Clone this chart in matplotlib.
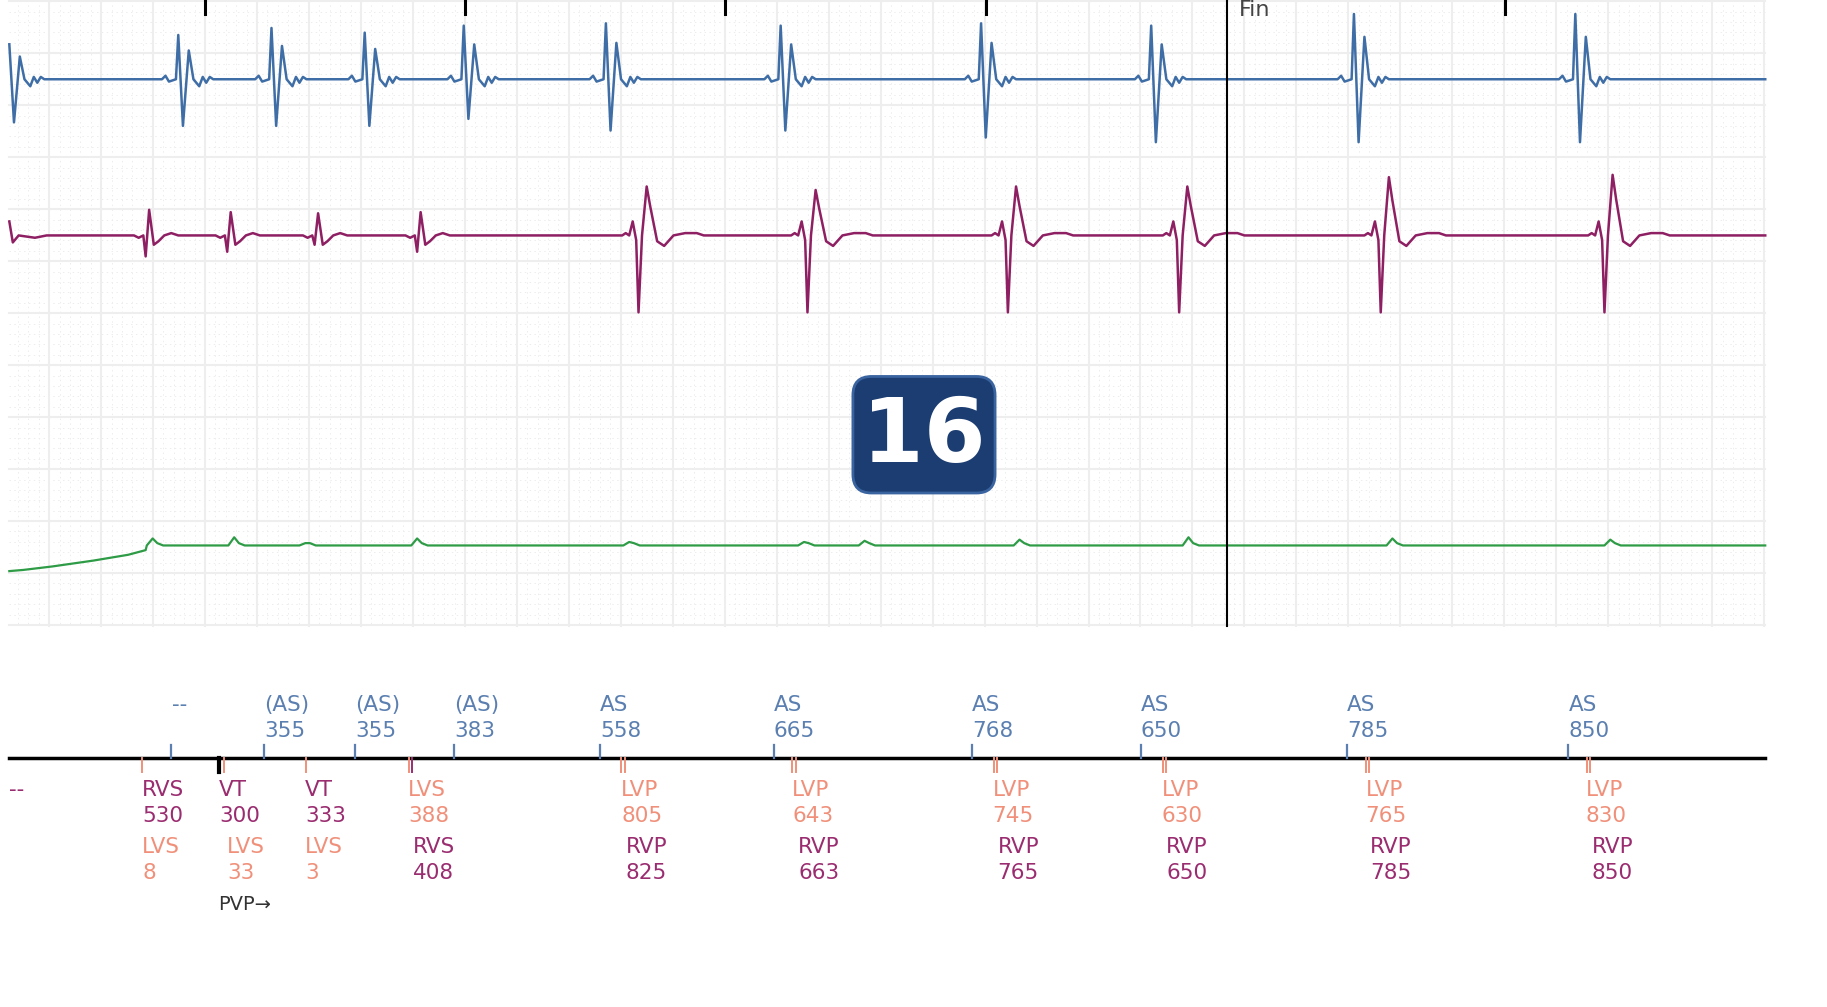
import numpy as np
import matplotlib
matplotlib.use("Agg")
import matplotlib.pyplot as plt
from matplotlib.patches import FancyBboxPatch

# ---- canvas in reference-view units ----
W, H = 1568, 864
X0, X1 = 8, 1515          # trace area
Y_GRID_BOTTOM = 537

# ---- channel baselines ----
blue_base, red_base, green_base = 68, 202, 468

# ---- blue channel (atrial) beats ----
blue_x    = [8, 153, 233, 313, 398, 520, 670, 842, 988, 1162, 1352]
blue_top  = [38, 30, 24, 28, 22, 20, 22, 20, 22, 12, 12]
blue_bot  = [105, 108, 108, 108, 102, 112, 112, 118, 122, 122, 122]

# ---- red channel (ventricular) beats ----
red_small_x   = [127, 197, 272, 360]
red_small_top = [180, 182, 183, 182]
red_small_bot = [220, 216, 210, 216]
red_big_x     = [548, 693, 865, 1012, 1185, 1377]
red_big_top   = [160, 163, 160, 160, 152, 150]
red_big_bot   = [268, 268, 268, 268, 268, 268]

# ---- green channel ----
green_start_x = [8, 20, 45, 80, 110, 125]
green_start_y = [490, 489, 486, 481, 476, 472]
green_bump_x  = [131, 201, 262, 358, 540, 690, 742, 875, 1020, 1195, 1382]
green_bump_y  = [462, 461, 466, 462, 465, 465, 464, 463, 461, 462, 463]

# ---- marks ----
top_ticks = [176, 399, 622, 846, 1292]
fin_x = 1053

# ---- annotation channel ----
atrial_tick_x = [147, 227, 305, 390, 515, 664, 834, 979, 1156, 1346]
atrial_l1 = ["--", "(AS)", "(AS)", "(AS)", "AS", "AS", "AS", "AS", "AS", "AS"]
atrial_l2 = ["", "355", "355", "383", "558", "665", "768", "650", "785", "850"]

vent_tick_x = [122, 192, 263, 351, 354, 533, 536, 680, 683, 853, 856, 998, 1001, 1172, 1175, 1362, 1365]
vent_tick_c = ["s", "s", "s", "s", "p", "s", "s", "s", "s", "s", "s", "s", "s", "s", "s", "s", "s"]

# rows: (x, text, colorkey, row)
vent_labels = [
    (8, "--", "p", 0),
    (122, "RVS", "p", 0), (122, "530", "p", 1), (122, "LVS", "s", 2), (122, "8", "s", 3),
    (188, "VT", "p", 0), (188, "300", "p", 1), (195, "LVS", "s", 2), (195, "33", "s", 3),
    (262, "VT", "p", 0), (262, "333", "p", 1), (262, "LVS", "s", 2), (262, "3", "s", 3),
    (350, "LVS", "s", 0), (350, "388", "s", 1), (354, "RVS", "p", 2), (354, "408", "p", 3),
    (533, "LVP", "s", 0), (533, "805", "s", 1), (537, "RVP", "p", 2), (537, "825", "p", 3),
    (680, "LVP", "s", 0), (680, "643", "s", 1), (685, "RVP", "p", 2), (685, "663", "p", 3),
    (852, "LVP", "s", 0), (852, "745", "s", 1), (856, "RVP", "p", 2), (856, "765", "p", 3),
    (997, "LVP", "s", 0), (997, "630", "s", 1), (1001, "RVP", "p", 2), (1001, "650", "p", 3),
    (1172, "LVP", "s", 0), (1172, "765", "s", 1), (1176, "RVP", "p", 2), (1176, "785", "p", 3),
    (1361, "LVP", "s", 0), (1361, "830", "s", 1), (1366, "RVP", "p", 2), (1366, "850", "p", 3),
]
row_y = [678, 700, 727, 749]

BLUE = "#3f6ea6"
RED = "#8e1f63"
GREEN = "#2e9b46"
LBLUE = "#5a7fb0"
PURPLE = "#9a2c70"
SALMON = "#f0907a"

fig = plt.figure(figsize=(18.27, 10.07), dpi=100)
ax = fig.add_axes([0, 0, 1, 1])
ax.set_xlim(0, W)
ax.set_ylim(H, 0)
ax.axis("off")

# grid
step = 44.6
gx = np.arange(-2.4, X1 + 1, step)
gx = gx[gx >= X0]
gy = np.arange(1.1, Y_GRID_BOTTOM + 1, step)
mx = np.arange(-2.4, X1, step / 5)
mx = mx[mx >= X0]
my = np.arange(1.1, Y_GRID_BOTTOM, step / 5)
for x in mx:
    ax.plot([x, x], [0, Y_GRID_BOTTOM], color="#ededed", lw=0.7, ls=(0, (1.5, 3.5)), zorder=1)
for y in my:
    ax.plot([X0, X1], [y, y], color="#ededed", lw=0.7, ls=(0, (1.5, 3.5)), zorder=1)
for x in gx:
    ax.plot([x, x], [0, Y_GRID_BOTTOM], color="#eeeeee", lw=1.5, zorder=1)
for y in gy:
    ax.plot([X0, X1], [y, y], color="#eeeeee", lw=1.5, zorder=1)


def build(base, segments, start=True):
    pts = [(X1, base)]
    if start:
        pts.append((X0, base))
    for seg in segments:
        pts.extend(seg)
    pts.sort(key=lambda p: p[0])
    xs, ys = zip(*pts)
    return np.array(xs), np.array(ys)

# blue
segs = []
for x0, t, b in zip(blue_x, blue_top, blue_bot):
    U = blue_base - t
    D = b - blue_base
    dx = [-14, -11, -8, -2, 0, 4, 9, 13, 18, 21, 24, 27, 30]
    dy = [0, -3, 2, 0, -U, D, -0.65 * U, 0, 6, -2, 3, -2, 0]
    segs.append([(x0 + a, blue_base + c) for a, c in zip(dx, dy) if x0 + a >= X0])
bx, by = build(blue_base, segs, start=False)
ax.plot(bx, by, color=BLUE, lw=1.8, zorder=3)

# red
segs = [[(X0, red_base - 12), (11, red_base + 6), (16, red_base), (30, red_base + 2), (40, red_base)]]
for x0, t, b in zip(red_small_x, red_small_top, red_small_bot):
    U = red_base - t
    D = b - red_base
    dx = [-12, -8, -4, -2, 1, 5, 9, 14, 20, 26]
    dy = [0, 2, 0, D, -U, 8, 5, 0, -2, 0]
    segs.append([(x0 + a, red_base + c) for a, c in zip(dx, dy)])
for x0, t, b in zip(red_big_x, red_big_top, red_big_bot):
    U = red_base - t
    D = b - red_base
    dx = [-14, -11, -8, -5, -2, 0, 3, 7, 10, 16, 22, 30, 40, 50, 56]
    dy = [0, -2, 0, -12, 4, D, 0, -U, -0.6 * U, 5, 9, 0, -2, -2, 0]
    segs.append([(x0 + a, red_base + c) for a, c in zip(dx, dy)])
rx, ry = build(red_base, segs, start=False)
ax.plot(rx, ry, color=RED, lw=1.8, zorder=3)

# green
segs = [list(zip(green_start_x, green_start_y))]
for x0, y in zip(green_bump_x, green_bump_y):
    segs.append([(x0 - 5, green_base), (x0, y), (x0 + 4, green_base - 2), (x0 + 9, green_base)])
gxp, gyp = build(green_base, segs, start=False)
ax.plot(gxp, gyp, color=GREEN, lw=1.6, zorder=3)

# top ticks, Fin line
for x in top_ticks:
    ax.plot([x, x], [0, 12], color="black", lw=2.2, zorder=4)
ax.plot([fin_x, fin_x], [0, Y_GRID_BOTTOM], color="black", lw=1.5, zorder=4)
ax.text(fin_x + 10, 9, "Fin", color="#444444", fontsize=16, ha="left", va="center", zorder=5)

# badge
badge = FancyBboxPatch((732, 323), 122, 100, boxstyle="round,pad=0,rounding_size=16",
                       facecolor="#1b3d72", edgecolor="#3a64a0", lw=2, zorder=6)
ax.add_patch(badge)
ax.text(793, 375, "16", color="white", fontsize=64, fontweight="bold",
        ha="center", va="center", zorder=7)

# annotation channel
ax.plot([X0, X1], [650, 650], color="black", lw=2.5, zorder=4)
for x, l1, l2 in zip(atrial_tick_x, atrial_l1, atrial_l2):
    ax.plot([x, x], [639, 650], color=LBLUE, lw=1.6, zorder=4)
    ax.text(x if l1 != "--" else x + 1, 605, l1, color=LBLUE, fontsize=15.5, ha="left", va="center")
    if l2:
        ax.text(x, 627, l2, color=LBLUE, fontsize=15.5, ha="left", va="center")
cmap = {"s": SALMON, "p": PURPLE}
for x, c in zip(vent_tick_x, vent_tick_c):
    ax.plot([x, x], [650, 662], color=cmap[c], lw=1.4, zorder=4)
ax.plot([188, 188], [650, 662], color="black", lw=3, zorder=4)
for x, t, c, r in vent_labels:
    ax.text(x, row_y[r], t, color=cmap[c], fontsize=15.5, ha="left", va="center")
ax.text(187, 776, "PVP→", color="#333333", fontsize=14, ha="left", va="center")

fig.savefig("out.png", dpi=100)
